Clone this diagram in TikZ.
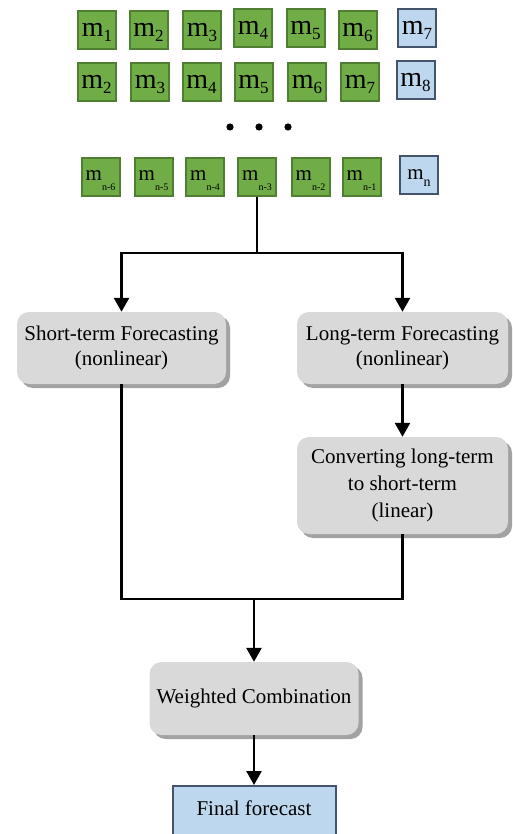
\documentclass[tikz,border=0pt]{standalone}
\usepackage{fontspec}
\setmainfont{Liberation Serif}
\usetikzlibrary{arrows.meta,shadows}
\definecolor{gfill}{HTML}{70AD47}
\definecolor{gdraw}{HTML}{507E32}
\definecolor{bfill}{HTML}{BDD7EE}
\definecolor{bdraw}{HTML}{44546A}
\definecolor{boxgray}{HTML}{D9D9D9}
\definecolor{shadowgray}{HTML}{A2A2A2}
\newcommand{\mrow}[1]{\fontsize{28}{28}\selectfont m\raisebox{-5pt}[0pt][0pt]{\fontsize{17}{17}\selectfont #1}}
\newcommand{\mlast}[1]{\raisebox{2pt}{\fontsize{21}{21}\selectfont m}\raisebox{-8pt}[0pt][0pt]{\fontsize{10}{10}\selectfont #1}}
\newcommand{\mlastn}{\raisebox{2pt}{\fontsize{21}{21}\selectfont m}\raisebox{-5pt}[0pt][0pt]{\fontsize{14}{14}\selectfont n}}
\tikzset{
  mbox/.style={draw=gdraw, fill=gfill, line width=2pt, minimum width=38pt, minimum height=38pt, inner sep=0pt, text depth=0pt},
  bbox/.style={draw=bdraw, fill=bfill, line width=2pt, minimum width=38pt, minimum height=38pt, inner sep=0pt, text depth=0pt},
  graybox/.style={fill=boxgray, rounded corners=12pt, align=center, inner sep=0pt,
    font=\fontsize{21}{25}\selectfont,
    general shadow={fill=shadowgray, shadow xshift=4pt, shadow yshift=-4pt}},
  finalbox/.style={draw=bdraw, fill=bfill, line width=2pt, inner sep=0pt},
  conn/.style={line width=2.6pt, black},
  arr/.style={conn, -{Triangle[width=15pt,length=14pt]}},
}
\begin{document}
\begin{tikzpicture}[x=1pt,y=-1pt]
\useasboundingbox (0,0) rectangle (513,834);
\clip (0,0) rectangle (513,834);
% row 1
\node[mbox] (a1) at (97,30) {\mrow{1}};
\node[mbox] (a2) at (148.5,30) {\mrow{2}};
\node[mbox] (a3) at (202,30) {\mrow{3}};
\node[mbox] (a4) at (253,28) {\mrow{4}};
\node[mbox] (a5) at (305.5,28) {\mrow{5}};
\node[mbox] (a6) at (357.5,30) {\mrow{6}};
\node[bbox] (a7) at (417,28) {\mrow{7}};
% row 2
\node[mbox] (b1) at (96.5,82) {\mrow{2}};
\node[mbox] (b2) at (150,82) {\mrow{3}};
\node[mbox] (b3) at (201.5,82) {\mrow{4}};
\node[mbox] (b4) at (253.5,82) {\mrow{5}};
\node[mbox] (b5) at (307,82) {\mrow{6}};
\node[mbox] (b6) at (360,82) {\mrow{7}};
\node[bbox] (b7) at (415.5,80) {\mrow{8}};
% dots
\fill (230,127) circle (3.6);
\fill (259,127) circle (3.6);
\fill (288,127) circle (3.6);
% row 3
\node[mbox] (c1) at (100.5,177) {\mlast{n-6}};
\node[mbox] (c2) at (153.5,177) {\mlast{n-5}};
\node[mbox] (c3) at (205,177) {\mlast{n-4}};
\node[mbox] (c4) at (257,177) {\mlast{n-3}};
\node[mbox] (c5) at (310.5,177) {\mlast{n-2}};
\node[mbox] (c6) at (361.5,177) {\mlast{n-1}};
\node[bbox] (c7) at (419,175.5) {\mlastn};
% process boxes
\node[graybox, minimum width=209pt, minimum height=72pt] (short) at (121.5,348) {Short-term Forecasting\\(nonlinear)};
\node[graybox, minimum width=211pt, minimum height=72pt] (long) at (402.5,348) {Long-term Forecasting\\(nonlinear)};
\node[graybox, minimum width=211pt, minimum height=97pt, font=\fontsize{21}{27}\selectfont] (conv) at (402.5,485.5) {Converting long-term\\to short-term\\(linear)};
\node[graybox, minimum width=209pt, minimum height=73pt] (weight) at (254,698.5) {Weighted Combination};
\node[finalbox, minimum width=163pt, minimum height=70pt, anchor=north] (final) at (254,785) {};
\node[font=\fontsize{21}{25}\selectfont, inner sep=0pt] (finaltxt) at (254,808) {Final forecast};
% connectors
\coordinate (j1) at (257,253);
\coordinate (j2) at (254,599);
\draw[conn] (c4.south) -- (j1);
\draw[arr] (j1) -| (short.north);
\draw[arr] (j1) -| (long.north);
\draw[arr] (long.south) -- (conv.north);
\draw[conn] (short.south) |- (j2) -| (conv.south);
\draw[arr] (j2) -- (weight.north);
\draw[arr] (weight.south) -- (final.north);
\end{tikzpicture}
\end{document}
